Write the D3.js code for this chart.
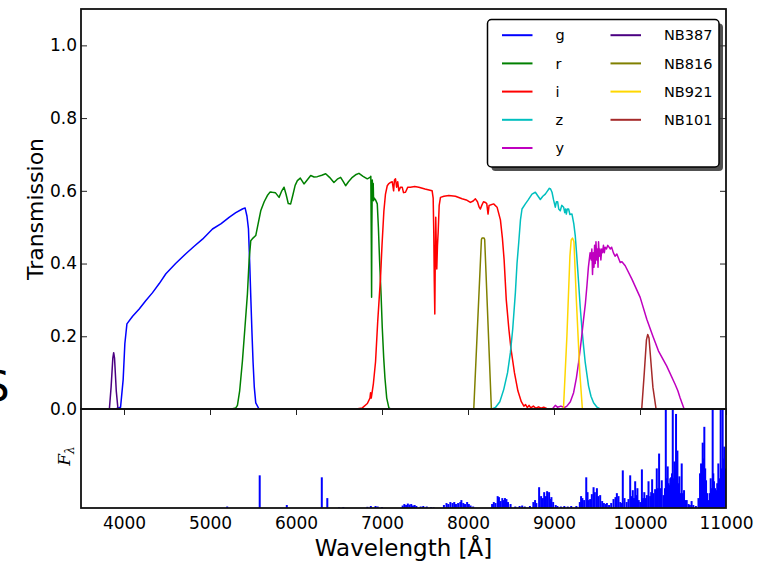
<!DOCTYPE html>
<html>
<head>
<meta charset="utf-8">
<script src="https://cdn.jsdelivr.net/npm/d3@7"></script>
<style>
  body { margin: 0; background: #fff; }
  #chart { width: 776px; height: 562px; }
  text { font-family: "DejaVu Sans", sans-serif; }
</style>
</head>
<body>
<div id="chart"></div>
<script>
// filter transmission curves, [wavelength (A), transmission]
const gBand = [[3900,0],[3960,0.005],[3990,0.08],[4010,0.18],[4034,0.234],[4100,0.255],[4177,0.275],[4250,0.297],[4332,0.32],[4410,0.345],[4487,0.372],[4600,0.400],[4719,0.427],[4813,0.447],[4913,0.467],[5029,0.495],[5130,0.51],[5222,0.527],[5300,0.54],[5377,0.55],[5408,0.553],[5430,0.53],[5447,0.496],[5462,0.4],[5474,0.31],[5488,0.21],[5501,0.128],[5515,0.06],[5532,0.017],[5570,0]];
const rBand = [[5250,0],[5300,0.003],[5319,0.01],[5345,0.05],[5377,0.132],[5405,0.22],[5435,0.316],[5455,0.41],[5474,0.463],[5500,0.47],[5532,0.477],[5560,0.51],[5590,0.545],[5630,0.57],[5667,0.587],[5700,0.597],[5725,0.596],[5760,0.595],[5803,0.582],[5835,0.6],[5861,0.61],[5885,0.59],[5910,0.565],[5938,0.564],[5965,0.59],[5990,0.615],[6016,0.628],[6050,0.635],[6093,0.619],[6130,0.63],[6171,0.642],[6210,0.638],[6248,0.639],[6300,0.643],[6345,0.647],[6390,0.637],[6441,0.623],[6480,0.632],[6519,0.637],[6550,0.625],[6577,0.614],[6610,0.625],[6655,0.637],[6700,0.645],[6732,0.648],[6780,0.64],[6829,0.633],[6860,0.637],[6870,0.64],[6876,0.45],[6879,0.307],[6882,0.5],[6887,0.63],[6893,0.59],[6898,0.62],[6902,0.573],[6910,0.58],[6925,0.575],[6945,0.564],[6958,0.5],[6972,0.408],[6990,0.31],[7003,0.224],[7020,0.14],[7034,0.086],[7055,0.03],[7080,0.003],[7100,0]];
const iBand = [[6700,0],[6771,0.003],[6830,0.015],[6860,0.03],[6867,0.045],[6875,0.03],[6900,0.07],[6925,0.13],[6950,0.24],[6983,0.362],[7000,0.45],[7022,0.545],[7040,0.59],[7061,0.614],[7080,0.62],[7099,0.623],[7119,0.625],[7135,0.6],[7145,0.63],[7157,0.633],[7170,0.61],[7183,0.625],[7196,0.6],[7215,0.61],[7235,0.61],[7250,0.595],[7273,0.596],[7300,0.61],[7331,0.61],[7380,0.612],[7428,0.61],[7500,0.605],[7583,0.6],[7595,0.58],[7602,0.486],[7608,0.35],[7614,0.261],[7619,0.4],[7625,0.527],[7631,0.45],[7637,0.385],[7645,0.45],[7653,0.486],[7665,0.56],[7680,0.582],[7720,0.585],[7777,0.587],[7854,0.585],[7931,0.578],[7980,0.575],[8028,0.568],[8060,0.572],[8086,0.578],[8110,0.57],[8130,0.555],[8144,0.55],[8160,0.56],[8180,0.57],[8202,0.568],[8218,0.565],[8233,0.536],[8245,0.56],[8260,0.561],[8298,0.564],[8338,0.555],[8377,0.52],[8400,0.47],[8420,0.41],[8445,0.3],[8475,0.22],[8500,0.165],[8540,0.1],[8580,0.05],[8620,0.02],[8650,0.008],[8670,0.012],[8690,0.004],[8710,0.01],[8730,0.003],[8760,0.008],[8790,0.002],[8820,0.006],[8850,0.002],[8880,0.005],[8920,0.001],[8977,0]];
const zBand = [[8280,0],[8319,0.004],[8370,0.02],[8416,0.054],[8460,0.1],[8493,0.155],[8520,0.22],[8551,0.32],[8570,0.4],[8590,0.458],[8610,0.52],[8628,0.55],[8667,0.564],[8700,0.575],[8744,0.591],[8783,0.596],[8815,0.585],[8841,0.576],[8870,0.585],[8899,0.591],[8925,0.6],[8946,0.607],[8960,0.605],[8977,0.596],[8995,0.575],[9015,0.555],[9028,0.57],[9042,0.57],[9055,0.55],[9073,0.545],[9090,0.56],[9112,0.555],[9125,0.54],[9135,0.55],[9143,0.536],[9155,0.55],[9170,0.55],[9185,0.535],[9209,0.536],[9230,0.51],[9247,0.477],[9265,0.42],[9286,0.348],[9305,0.28],[9325,0.22],[9345,0.17],[9363,0.128],[9402,0.063],[9430,0.035],[9460,0.017],[9500,0.005],[9537,0]];
const yBand = [[8980,0],[8995,0.004],[9015,0.01],[9040,0.005],[9080,0.008],[9120,0.004],[9150,0.008],[9190,0.02],[9228,0.045],[9260,0.085],[9286,0.128],[9315,0.185],[9344,0.247],[9365,0.29],[9383,0.339],[9400,0.39],[9410,0.41],[9420,0.43],[9432,0.41],[9440,0.44],[9448,0.37],[9456,0.43],[9465,0.39],[9472,0.45],[9480,0.40],[9488,0.46],[9497,0.41],[9505,0.44],[9512,0.39],[9518,0.46],[9526,0.42],[9535,0.44],[9545,0.41],[9555,0.44],[9565,0.43],[9575,0.45],[9585,0.43],[9595,0.445],[9610,0.44],[9625,0.45],[9640,0.445],[9655,0.44],[9670,0.445],[9690,0.43],[9710,0.42],[9731,0.426],[9770,0.403],[9790,0.405],[9828,0.394],[9906,0.357],[10002,0.307],[10079,0.247],[10150,0.2],[10214,0.16],[10311,0.118],[10408,0.068],[10440,0.05],[10466,0.031],[10513,0]];
const nb387 = [[3800,0],[3830,0],[3850,0.06],[3870,0.14],[3880,0.155],[3890,0.14],[3910,0.05],[3930,0],[3960,0]];
const nb816 = [[8050,0],[8067,0],[8156,0.466],[8163,0.47],[8187,0.47],[8194,0.466],[8272,0],[8290,0]];
const nb921 = [[9090,0],[9110,0],[9150,0.2],[9185,0.42],[9200,0.465],[9215,0.47],[9232,0.46],[9260,0.3],[9300,0.1],[9330,0],[9350,0]];
const nb101 = [[10000,0],[10020,0],[10050,0.1],[10075,0.19],[10090,0.205],[10105,0.195],[10120,0.15],[10150,0.06],[10187,0],[10200,0]];

const filterNames = ["g", "r", "i", "z", "y", "NB387", "NB816", "NB921", "NB101"];
const filterColors = ["#0000ff", "#008000", "#ff0000", "#00bfbf", "#bf00bf", "#4b0082", "#808000", "#ffd700", "#a52a2a"];
const filterCurves = [gBand, rBand, iBand, zBand, yBand, nb387, nb816, nb921, nb101];

// sky emission lines for the lower panel, [wavelength, relative flux]
const skyLines = [[5200,0.015],[5578,0.33],[5893,0.03],[6300,0.31],[6364,0.10],[6500,0.008],[6550,0.01],[6830,0.012],[6870,0.02],[6925,0.02],[6950,0.015],[7000,0.01],
  [7240,0.025],[7260,0.04],[7280,0.03],[7300,0.045],[7320,0.035],[7340,0.04],[7360,0.025],[7380,0.03],[7400,0.02],[7450,0.015],[7480,0.02],[7520,0.015],[7570,0.01],[7600,0.008],
  [7720,0.03],[7750,0.05],[7770,0.04],[7795,0.06],[7820,0.05],[7840,0.06],[7860,0.04],[7885,0.05],[7910,0.06],[7923,0.08],[7945,0.05],[7965,0.04],[7990,0.06],[8010,0.04],[8030,0.025],[8060,0.015],
  [8280,0.04],[8300,0.06],[8320,0.05],[8345,0.12],[8360,0.11],[8380,0.07],[8399,0.1],[8415,0.08],[8430,0.1],[8447,0.09],[8465,0.06],[8495,0.04],[8550,0.015],[8600,0.02],[8630,0.025],[8660,0.015],[8720,0.02],
  [8760,0.06],[8780,0.08],[8795,0.05],[8827,0.21],[8850,0.12],[8870,0.1],[8886,0.16],[8905,0.12],[8920,0.17],[8943,0.16],[8960,0.09],[8970,0.11],[8990,0.06],[9020,0.03],[9040,0.02],[9080,0.015],[9120,0.02],[9160,0.015],[9200,0.02],[9260,0.02],
  [9300,0.06],[9315,0.12],[9330,0.1],[9350,0.08],[9375,0.31],[9390,0.16],[9405,0.08],[9421,0.09],[9440,0.14],[9460,0.21],[9475,0.16],[9499,0.2],[9515,0.12],[9537,0.13],[9560,0.07],[9580,0.05],[9600,0.04],[9615,0.05],[9640,0.03],[9665,0.05],[9692,0.09],[9715,0.11],[9731,0.15],[9750,0.12],[9770,0.06],[9785,0.05],
  [9800,0.38],[9820,0.1],[9845,0.06],[9866,0.09],[9886,0.33],[9900,0.12],[9916,0.18],[9930,0.1],[9944,0.27],[9957,0.13],[9970,0.2],[9985,0.08],[10002,0.06],[10022,0.39],[10035,0.1],[10050,0.16],[10065,0.1],[10080,0.13],[10099,0.27],[10118,0.12],[10130,0.16],[10141,0.29],[10158,0.15],[10176,0.19],[10195,0.4],[10208,0.2],[10222,0.55],[10237,0.2],[10253,0.28],[10273,0.13],[10290,0.2],[10300,1.2],[10312,0.3],[10322,0.42],[10332,0.25],[10342,0.23],[10352,0.3],[10361,0.31],[10372,0.35],[10381,1.2],[10390,0.3],[10400,0.47],[10410,0.4],[10419,0.95],[10428,0.3],[10435,0.58],[10447,0.25],[10458,0.32],[10470,0.15],[10485,0.45],[10498,0.15],[10512,0.18],[10525,0.08],[10543,0.08],[10565,0.04],[10580,0.03],[10600,0.07],[10620,0.03],[10650,0.02],
  [10680,0.1],[10698,0.35],[10710,0.45],[10720,0.4],[10729,0.66],[10738,0.5],[10748,0.82],[10758,0.4],[10768,0.28],[10780,0.15],[10795,0.08],[10810,0.15],[10822,0.3],[10833,0.2],[10845,1.2],[10852,0.35],[10860,0.27],[10872,0.2],[10884,0.18],[10898,0.25],[10911,0.45],[10925,0.3],[10938,1.2],[10950,0.4],[10961,1.2],[10970,0.5],[10980,0.62],[10990,0.4]];

const xTicks = [4000, 5000, 6000, 7000, 8000, 9000, 10000, 11000];
const yTicks = [0.0, 0.2, 0.4, 0.6, 0.8, 1.0];

function drawFilters() {
    const left = 81, right = 726, top = 9, mid = 409, bottom = 508;

    const svg = d3.select("#chart").append("svg")
        .attr("width", 776)
        .attr("height", 562);

    const x = d3.scaleLinear().domain([3500, 11000]).range([left, right]);
    const yT = d3.scaleLinear().domain([0, 1.1]).range([mid, top]);
    const yB = d3.scaleLinear().domain([0, 1]).range([bottom, mid]);

    const defs = svg.append("defs");
    defs.append("clipPath").attr("id", "clipTop")
        .append("rect").attr("x", left).attr("y", top).attr("width", right - left).attr("height", mid - top);
    defs.append("clipPath").attr("id", "clipBot")
        .append("rect").attr("x", left).attr("y", mid).attr("width", right - left).attr("height", bottom - mid);

    // filter curves
    const line = d3.line().x(d => x(d[0])).y(d => yT(d[1]));
    const curves = svg.append("g").attr("clip-path", "url(#clipTop)");
    filterCurves.forEach((c, i) => {
        curves.append("path")
            .attr("d", line(c))
            .attr("fill", "none")
            .attr("stroke", filterColors[i])
            .attr("stroke-width", 1.5)
            .attr("stroke-linejoin", "round");
    });

    // sky spectrum
    svg.append("g").attr("clip-path", "url(#clipBot)")
        .selectAll("line")
        .data(skyLines)
        .enter()
        .append("line")
        .attr("x1", d => x(d[0]))
        .attr("x2", d => x(d[0]))
        .attr("y1", yB(0))
        .attr("y2", d => yB(d[1]))
        .attr("stroke", "#0000ff")
        .attr("stroke-width", 2);

    // axes
    const yAxis = svg.append("g")
        .attr("transform", `translate(${left},0)`)
        .call(d3.axisLeft(yT).tickValues(yTicks).tickFormat(d3.format(".1f")).tickSize(-6).tickPadding(4));
    yAxis.select(".domain").remove();
    yAxis.selectAll("text").style("font-size", "17px").attr("fill", "#000");
    yAxis.selectAll("line").attr("stroke", "#222");

    const yAxisR = svg.append("g")
        .attr("transform", `translate(${right},0)`)
        .call(d3.axisRight(yT).tickValues(yTicks).tickFormat("").tickSize(-6));
    yAxisR.select(".domain").remove();
    yAxisR.selectAll("line").attr("stroke", "#222");

    const xMid = svg.append("g")
        .attr("transform", `translate(0,${mid})`)
        .call(d3.axisTop(x).tickValues(xTicks).tickFormat("").tickSize(-6));
    xMid.select(".domain").remove();
    xMid.selectAll("line").attr("stroke", "#222");

    const xAxis = svg.append("g")
        .attr("transform", `translate(0,${bottom})`)
        .call(d3.axisBottom(x).tickValues(xTicks).tickFormat(d3.format("d")).tickSize(0).tickPadding(9));
    xAxis.select(".domain").remove();
    xAxis.selectAll("text").style("font-size", "17px").attr("fill", "#000");

    // frames
    svg.append("rect").attr("x", left).attr("y", top).attr("width", right - left).attr("height", mid - top)
        .attr("fill", "none").attr("stroke", "#111").attr("stroke-width", 1.8);
    svg.append("rect").attr("x", left).attr("y", mid).attr("width", right - left).attr("height", bottom - mid)
        .attr("fill", "none").attr("stroke", "#111").attr("stroke-width", 1.8);

    // labels
    svg.append("text")
        .attr("transform", `translate(43,${(top + mid) / 2}) rotate(-90)`)
        .attr("text-anchor", "middle")
        .style("font-size", "22px")
        .text("Transmission");

    const fl = svg.append("text")
        .attr("transform", `translate(70,456) rotate(-90)`)
        .attr("text-anchor", "middle")
        .style("font-family", "'DejaVu Serif', serif")
        .style("font-style", "italic")
        .style("font-size", "17px");
    fl.append("tspan").text("F");
    fl.append("tspan").attr("dy", 4).style("font-size", "12px").text("λ");

    svg.append("text")
        .attr("x", (left + right) / 2)
        .attr("y", 556)
        .attr("text-anchor", "middle")
        .style("font-size", "23px")
        .text("Wavelength [Å]");

    svg.append("text")
        .attr("x", -17)
        .attr("y", 401)
        .style("font-size", "42px")
        .text("S");

    // legend
    const lg = svg.append("g");
    lg.append("rect").attr("x", 491.5).attr("y", 23.5).attr("width", 231.5).attr("height", 147.5)
        .attr("rx", 4).attr("fill", "#333").attr("opacity", 0.85);
    lg.append("rect").attr("x", 487.5).attr("y", 19.5).attr("width", 231.5).attr("height", 147.5)
        .attr("rx", 4).attr("fill", "#fff").attr("stroke", "#000").attr("stroke-width", 1.5);

    filterNames.forEach((name, i) => {
        const col = i < 5 ? 0 : 1;
        const row = i < 5 ? i : i - 5;
        const lx = col === 0 ? 502 : 610.5;
        const tx = col === 0 ? 555.5 : 664;
        const ly = 35.2 + row * 28.2;
        lg.append("line")
            .attr("x1", lx).attr("x2", lx + 30.5)
            .attr("y1", ly).attr("y2", ly)
            .attr("stroke", filterColors[i])
            .attr("stroke-width", 2);
        lg.append("text")
            .attr("x", tx)
            .attr("y", ly)
            .attr("dy", "0.36em")
            .style("font-size", "14.5px")
            .text(name);
    });
}

window.addEventListener("load", drawFilters);
</script>
</body>
</html>
